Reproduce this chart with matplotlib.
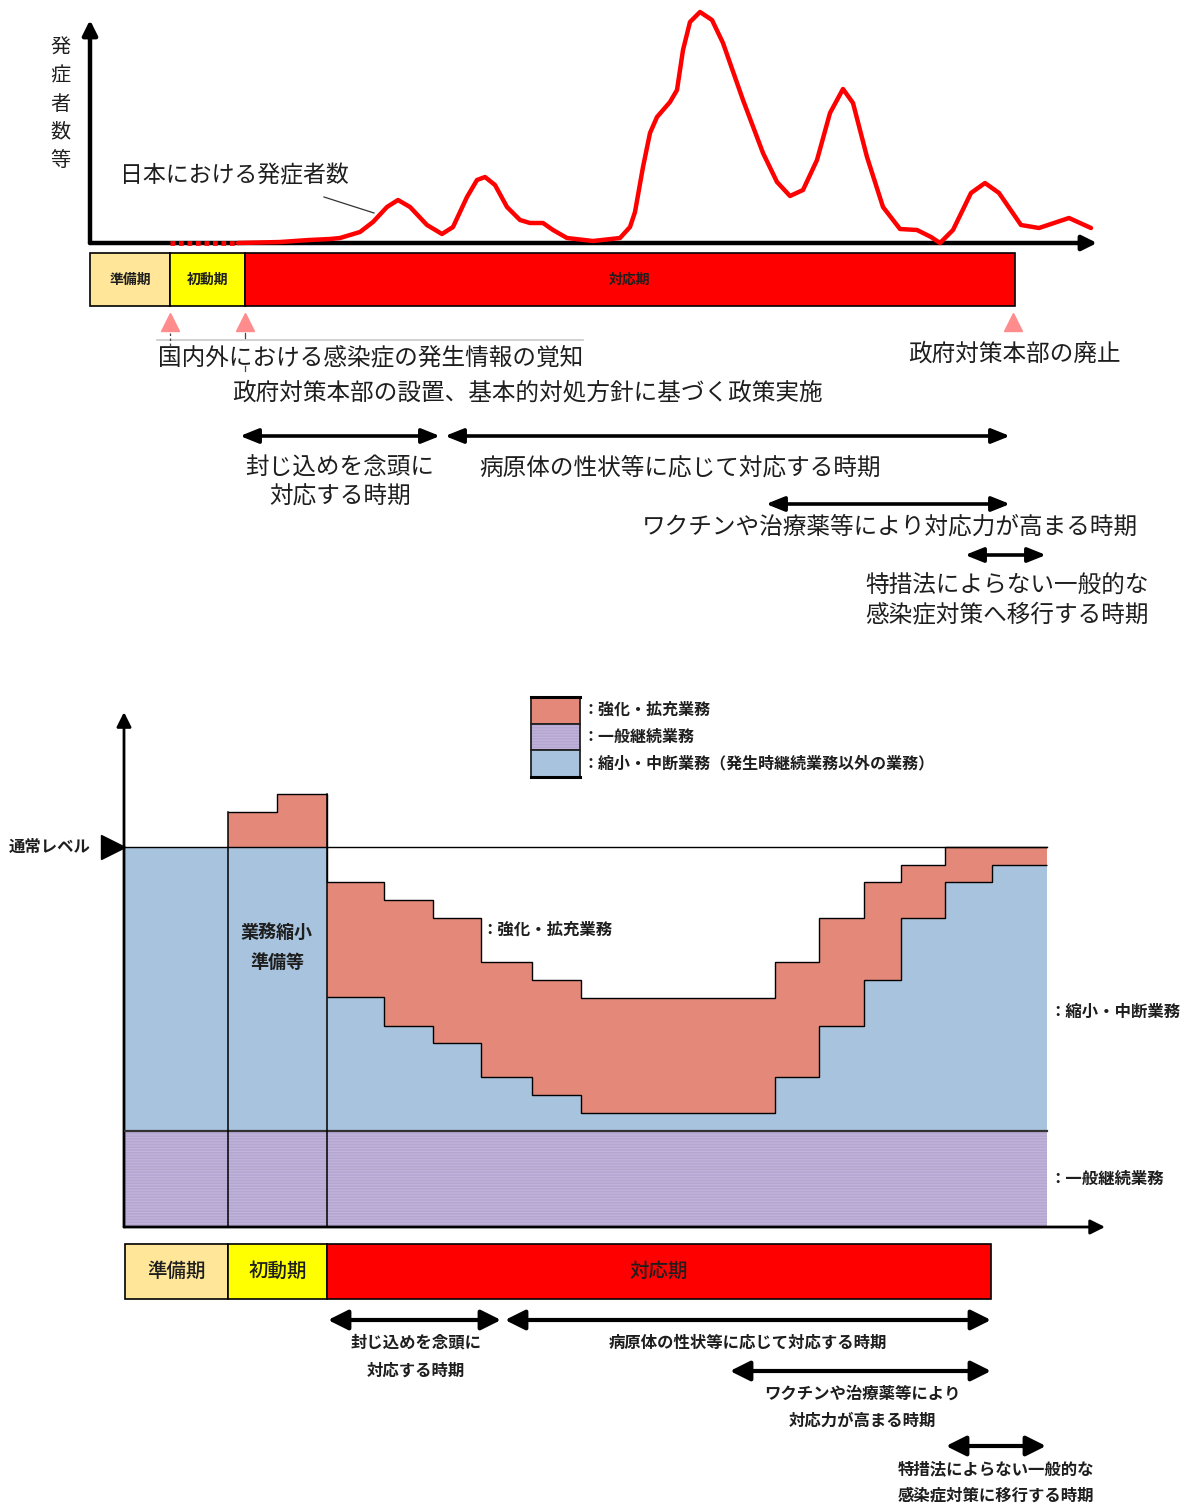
import matplotlib
matplotlib.use("Agg")
import matplotlib.pyplot as plt
from matplotlib.patches import Rectangle

plt.rcParams["font.family"] = ["Noto Sans CJK JP", "DejaVu Sans"]
plt.rcParams["hatch.linewidth"] = 1.0

W, H = 1190, 1507
TEXT = "#1e1e1e"

# ---- top chart: number of cases (time = px from the y axis, cases = px above the x axis)
CURVE_T = [148, 190, 219, 240, 250, 260, 270, 283, 297, 308,
           320, 337, 352, 363, 377, 387, 395, 405, 417, 430,
           440, 453, 463, 477, 503, 530, 540, 545, 553, 560,
           567, 580, 587, 593, 600, 610, 622, 633, 653, 673,
           687, 700, 713, 727, 740, 753, 763, 777, 793, 810,
           827, 841, 850, 863, 881, 895, 909, 931, 949, 967,
           979, 1001]
CURVE_V = [0, 1, 3, 4, 5, 8, 11, 21, 36, 43,
           36, 18, 9, 16, 46, 63, 66, 58, 36, 23,
           20, 20, 13, 5, 2, 5, 16, 31, 76, 110,
           126, 141, 153, 193, 221, 231, 223, 200, 143, 90,
           61, 47, 53, 83, 130, 154, 140, 86, 36, 14,
           13, 6, 0, 13, 50, 60, 50, 18, 15, 21,
           25, 15]
EARLY_T = [80, 148]

PHASE_LABELS = ["準備期", "初動期", "対応期"]
PHASE_COLORS = ["#FFE699", "#FFFF00", "#FF0000"]
TOP_PHASE_EDGES = [90, 170, 245, 1015]
BOTTOM_PHASE_EDGES = [125, 228, 327, 991]

EVENT_X = [170, 245, 1013]

TOP_NOTES = [
    ("国内外における感染症の発生情報の覚知", 158, 358, "left"),
    ("政府対策本部の設置、基本的対処方針に基づく政策実施", 232, 393, "left"),
    ("政府対策本部の廃止", 908, 354, "left"),
    ("封じ込めを念頭に", 340, 468, "center"),
    ("対応する時期", 340, 497, "center"),
    ("病原体の性状等に応じて対応する時期", 479, 468, "left"),
    ("ワクチンや治療薬等により対応力が高まる時期", 642, 527, "left"),
    ("特措法によらない一般的な", 865, 586, "left"),
    ("感染症対策へ移行する時期", 865, 615, "left"),
]
TOP_SPANS = [(240, 440, 436), (445, 1010, 436), (766, 1010, 504), (965, 1046, 555)]

# ---- lower chart: business level (normal level = 100)
LEVEL_EDGES = [0, 104, 153, 203, 260, 309, 357, 408, 457, 651, 695, 740, 777, 821, 868, 923]
BLUE_TOP = [100, 100, 100, 60.5, 52.9, 48.4, 39.5, 34.7, 30.0, 39.5, 52.9, 65.0, 81.3, 90.8, 95.3]
RED_TOP = [100, 109.2, 114.0, 90.8, 86.0, 81.3, 69.7, 65.0, 60.3, 69.7, 81.3, 90.8, 95.3, 100, 100]
GENERAL_LEVEL = 25.3
NORMAL_LEVEL = 100

RED = "#E4897A"
BLUE = "#A8C3DD"
PURPLE = "#B4A5D1"
PURPLE_STRIPE = "#C0B4DA"

LEGEND_LABELS = ["：強化・拡充業務", "：一般継続業務", "：縮小・中断業務（発生時継続業務以外の業務）"]
LEGEND_COLORS = [RED, PURPLE, BLUE]

LOWER_NOTES = [
    ("：強化・拡充業務", 481, 930, "left"),
    ("：縮小・中断業務", 1049, 1012, "left"),
    ("：一般継続業務", 1049, 1179, "left"),
    ("通常レベル", 50, 847, "center"),
]
BOTTOM_NOTES = [
    ("封じ込めを念頭に", 416, 1343, "center"),
    ("対応する時期", 416, 1371, "center"),
    ("病原体の性状等に応じて対応する時期", 748, 1343, "center"),
    ("ワクチンや治療薬等により", 862, 1394, "center"),
    ("対応力が高まる時期", 862, 1421, "center"),
    ("特措法によらない一般的な", 898, 1469, "left"),
    ("感染症対策に移行する時期", 898, 1496, "left"),
]
BOTTOM_SPANS = [(328, 501, 1320), (505, 991, 1320), (730, 991, 1371), (946, 1046, 1446)]


def px_axes(fig, x0, y0, x1, y1):
    return fig.add_axes([x0 / W, 1 - y1 / H, (x1 - x0) / W, (y1 - y0) / H])


def axis_arrows(ax, x_end, y_end, lw, scale):
    style = dict(arrowstyle="-|>", color="black", lw=lw, mutation_scale=scale,
                 shrinkA=0, shrinkB=0)
    ax.annotate("", xy=(x_end, 0), xytext=(0, 0), arrowprops=style,
                annotation_clip=False, zorder=1)
    ax.annotate("", xy=(0, y_end), xytext=(0, 0), arrowprops=style,
                annotation_clip=False, zorder=1)


def top_chart(fig):
    ax = px_axes(fig, 90, 10, 1097, 243)
    ax.set_xlim(0, 1007)
    ax.set_ylim(0, 233)
    ax.axis("off")
    axis_arrows(ax, 1007, 223, 3.2, 22)
    ax.plot(CURVE_T, CURVE_V, color="#FF0000", lw=3.2, solid_joinstyle="round",
            solid_capstyle="round", zorder=3, clip_on=False)
    ax.plot(EARLY_T, [0, 0], color="#FF0000", lw=3.4, linestyle=(0, (1.0, 0.8)),
            zorder=3, clip_on=False)


def lower_chart(fig):
    ax = px_axes(fig, 124, 700, 1110, 1227)
    ax.set_xlim(0, 986)
    ax.set_ylim(0, 527 / 3.8)
    ax.axis("off")

    ax.add_patch(Rectangle((0, 0), LEVEL_EDGES[-1], GENERAL_LEVEL, facecolor=PURPLE,
                           edgecolor=PURPLE_STRIPE, hatch="------", lw=0, zorder=1))
    ax.stairs(BLUE_TOP, LEVEL_EDGES, baseline=GENERAL_LEVEL, fill=True,
              color=BLUE, zorder=1)
    ax.stairs(RED_TOP, LEVEL_EDGES, baseline=BLUE_TOP, fill=True, color=RED, zorder=1)

    ax.plot([0, LEVEL_EDGES[-1]], [NORMAL_LEVEL] * 2, color="black", lw=1.0, zorder=2)
    ax.plot([0, LEVEL_EDGES[-1]], [GENERAL_LEVEL] * 2, color="#333333", lw=1.6, zorder=2)
    ax.stairs(RED_TOP[1:], LEVEL_EDGES[1:], baseline=None, color="black", lw=1.0, zorder=2)
    ax.stairs(BLUE_TOP[3:], LEVEL_EDGES[3:], baseline=None, color="black", lw=1.0, zorder=2)
    for edge, top in [(LEVEL_EDGES[1], RED_TOP[1]), (LEVEL_EDGES[3], RED_TOP[2])]:
        ax.plot([edge, edge], [0, top], color="black", lw=1.1, zorder=2)

    axis_arrows(ax, 981, 135.5, 2.0, 22)


def phase_bar(ax, edges, y0, y1, size, weight):
    for i, label in enumerate(PHASE_LABELS):
        ax.add_patch(Rectangle((edges[i], y0), edges[i + 1] - edges[i], y1 - y0,
                               facecolor=PHASE_COLORS[i], edgecolor="black", lw=1.2))
        ax.text((edges[i] + edges[i + 1]) / 2, (y0 + y1) / 2, label, fontsize=size,
                fontweight=weight, ha="center", va="center", color=TEXT)


def span_arrows(ax, spans, lw, scale, head):
    for x0, x1, y in spans:
        ax.annotate("", xy=(x1, y), xytext=(x0, y),
                    arrowprops=dict(arrowstyle="<|-|>," + head, color="black", lw=lw,
                                    mutation_scale=scale, shrinkA=0, shrinkB=0))


def overlay(fig):
    ax = fig.add_axes([0, 0, 1, 1])
    ax.set_xlim(0, W)
    ax.set_ylim(H, 0)
    ax.axis("off")
    ax.patch.set_alpha(0)

    # top part
    for i, ch in enumerate("発症者数等"):
        ax.text(60, 48 + 28 * i, ch, fontsize=14.5, ha="center", va="center", color=TEXT)
    ax.text(120, 176, "日本における発症者数", fontsize=16.5, ha="left", va="center", color=TEXT)
    ax.plot([324, 374], [197, 213], color="#333333", lw=0.9)

    phase_bar(ax, TOP_PHASE_EDGES, 253, 306, 10, "bold")
    ax.plot(EVENT_X, [322] * 3, linestyle="none", marker="^", markersize=13,
            color="#FF8C8C")
    ax.plot([157, 583], [340, 340], color="#C8C8C8", lw=1.2)
    ax.plot([170, 170], [333, 346], color="#444444", lw=0.9, linestyle=(0, (2, 2)))
    ax.plot([245, 245], [333, 338], color="#444444", lw=0.9)
    ax.plot([245, 245], [366, 371], color="#444444", lw=0.9)
    for text, x, y, ha in TOP_NOTES:
        ax.text(x, y, text, fontsize=17, ha=ha, va="center", color=TEXT)
    span_arrows(ax, TOP_SPANS, 2.6, 20, "head_length=0.55,head_width=0.22")

    # lower part: legend
    for i, (label, color) in enumerate(zip(LEGEND_LABELS, LEGEND_COLORS)):
        y0 = 697 + 26.7 * i
        if color == PURPLE:
            ax.add_patch(Rectangle((531, y0), 49, 26.7, facecolor=color,
                                   edgecolor=PURPLE_STRIPE, hatch="------", lw=0))
        else:
            ax.add_patch(Rectangle((531, y0), 49, 26.7, facecolor=color, lw=0))
        ax.add_patch(Rectangle((531, y0), 49, 26.7, facecolor="none",
                               edgecolor="#222222", lw=1.3))
        ax.text(583, y0 + 13, label, fontsize=11.5, fontweight="bold", ha="left",
                va="center", color=TEXT)
    ax.plot([531, 580], [697, 697], color="black", lw=2.2)
    ax.plot([531, 580], [777, 777], color="black", lw=2.2)

    ax.plot([113], [847], marker=">", markersize=17, color="black", linestyle="none")
    for text, x, y, ha in LOWER_NOTES:
        ax.text(x, y, text, fontsize=11.8, fontweight="bold", ha=ha, va="center", color=TEXT)
    ax.text(277, 932, "業務縮小", fontsize=13, fontweight="bold", ha="center",
            va="center", color=TEXT)
    ax.text(277, 962, "準備等", fontsize=13, fontweight="bold", ha="center",
            va="center", color=TEXT)

    phase_bar(ax, BOTTOM_PHASE_EDGES, 1244, 1299, 14, "medium")
    span_arrows(ax, BOTTOM_SPANS, 3.0, 20, "head_length=0.6,head_width=0.3")
    for text, x, y, ha in BOTTOM_NOTES:
        ax.text(x, y, text, fontsize=11.8, fontweight="bold", ha=ha, va="center", color=TEXT)


def main():
    fig = plt.figure(figsize=(W / 100, H / 100), dpi=100)
    fig.patch.set_facecolor("white")
    top_chart(fig)
    lower_chart(fig)
    overlay(fig)
    fig.savefig("out.png", dpi=100, facecolor="white")
    plt.close(fig)


if __name__ == "__main__":
    main()
